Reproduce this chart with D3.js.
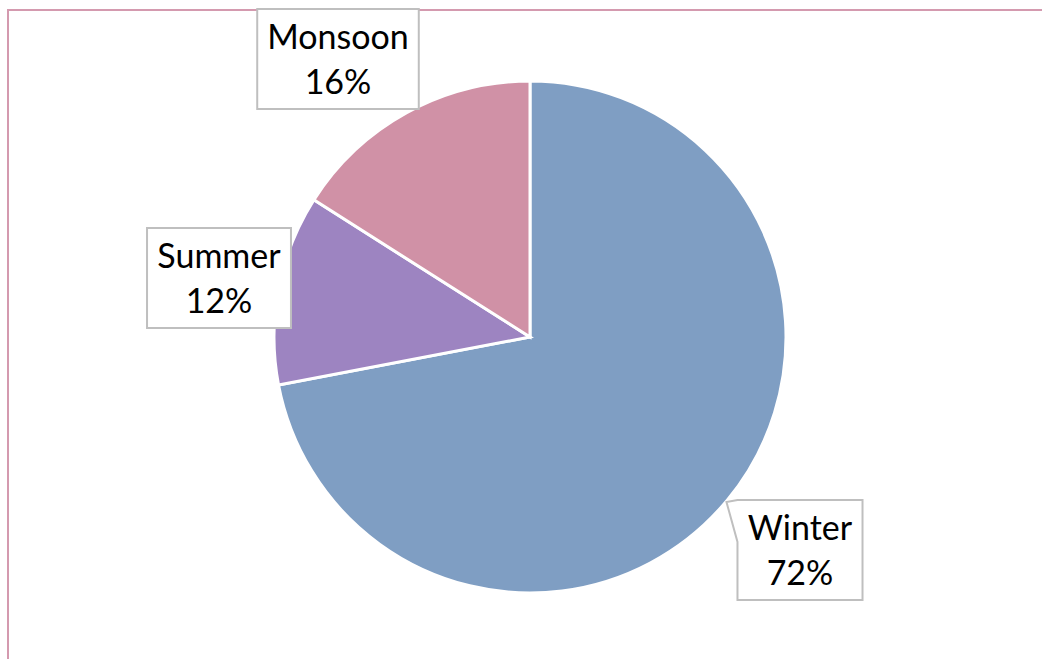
<!DOCTYPE html>
<html>
<head>
<meta charset="utf-8">
<script src="https://cdn.jsdelivr.net/npm/d3@7"></script>
<style>
  body { margin: 0; background: #fff; }
  svg { display: block; }
</style>
</head>
<body>
<div id="chart"></div>
<script>
const seasons = ['Winter', 'Summer', 'Monsoon'];
const shares = [72, 12, 16];
const sliceColors = ['#7F9EC3', '#9D84C1', '#D091A6'];

// label box centres (picked by hand, like Excel's best-fit)
const labelCentres = [[800, 550], [219, 278], [338, 59]];

const width = 1042, height = 659;
const cx = 530, cy = 337, radius = 256;

const svg = d3.select('#chart').append('svg')
    .attr('width', width)
    .attr('height', height);

// chart area frame, runs off the right and bottom edge
svg.append('rect')
    .attr('x', 8)
    .attr('y', 10)
    .attr('width', 1100)
    .attr('height', 700)
    .attr('fill', 'none')
    .attr('stroke', '#D49AAF')
    .attr('stroke-width', 2);

const data = seasons.map((s, i) => ({season: s, value: shares[i], color: sliceColors[i]}));

const pie = d3.pie()
    .value(d => d.value)
    .sort(null);

const arc = d3.arc()
    .innerRadius(0)
    .outerRadius(radius);

const g = svg.append('g')
    .attr('transform', `translate(${cx}, ${cy})`);

const arcs = pie(data);

g.selectAll('.slice')
  .data(arcs)
  .join('path')
    .attr('class', 'slice')
    .attr('d', arc)
    .attr('fill', d => d.data.color)
    .attr('stroke', '#fff')
    .attr('stroke-width', 3)
    .attr('stroke-linejoin', 'miter');

const total = d3.sum(shares);
const fontSize = 34;
const lineGap = 45;
const padX = 10, boxH = 100;

const labels = svg.selectAll('.label')
  .data(arcs)
  .join('g')
    .attr('class', 'label');

labels.each(function(d, i) {
  const lg = d3.select(this);
  const [lx, ly] = labelCentres[i];
  const box = lg.append('path');
  const t = lg.append('text')
      .attr('text-anchor', 'middle')
      .attr('font-family', 'Lato, "Open Sans", sans-serif')
      .attr('font-size', fontSize)
      .attr('fill', '#000');
  t.append('tspan')
      .attr('x', lx)
      .attr('y', ly - boxH / 2 + 40)
      .text(d.data.season);
  t.append('tspan')
      .attr('x', lx)
      .attr('y', ly - boxH / 2 + 40 + lineGap)
      .text(Math.round(d.data.value / total * 100) + '%');

  const tw = t.node().getBBox().width;
  const x0 = lx - tw / 2 - padX, x1 = lx + tw / 2 + padX;
  const y0 = ly - boxH / 2, y1 = ly + boxH / 2;

  // small callout tail on the Winter box, pointing back at the pie
  let p;
  if (d.data.season === 'Winter') {
    p = `M${x0},${y0}L${x1},${y0}L${x1},${y1}L${x0},${y1}L${x0},${y0 + 42}L${x0 - 11},${y0 + 2}Z`;
  } else {
    p = `M${x0},${y0}L${x1},${y0}L${x1},${y1}L${x0},${y1}Z`;
  }
  box.attr('d', p)
      .attr('fill', '#fff')
      .attr('stroke', '#BFBFBF')
      .attr('stroke-width', 2)
      .attr('stroke-linejoin', 'miter');
});
</script>
</body>
</html>
